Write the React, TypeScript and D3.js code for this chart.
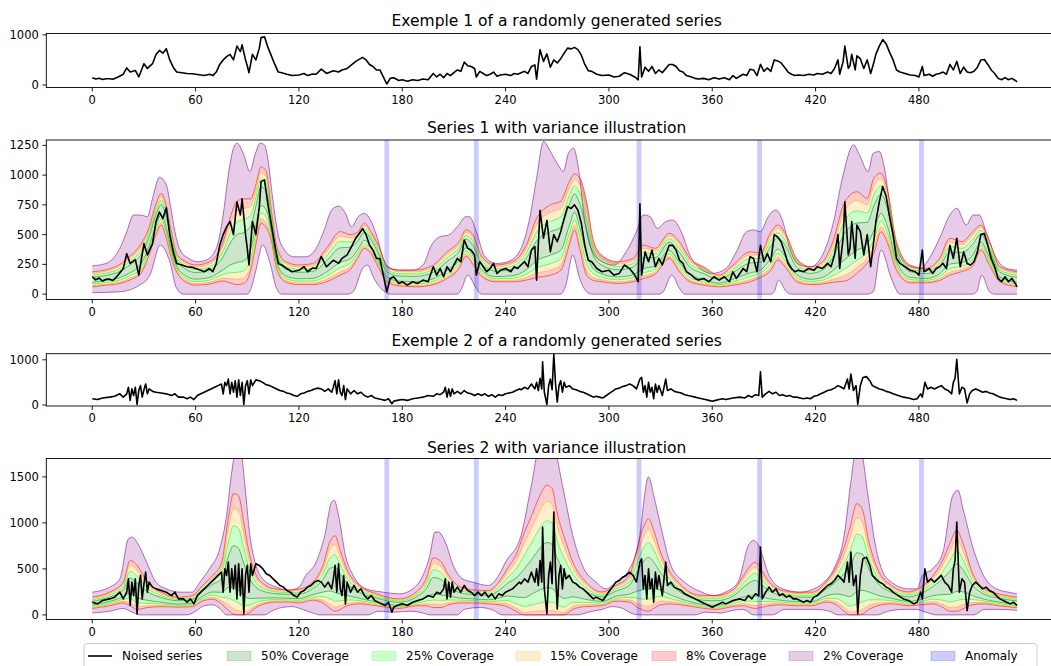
import React from "react";
import * as d3 from "d3";

type P = [number, number];

const X_TICKS = [0, 60, 120, 180, 240, 300, 360, 420, 480];
const ANOMALIES = [171, 223, 317.5, 387.5, 481.5];
const ANOMALY_HALF = 1.4;

// ---------- Series 1 ----------
const s1Noised: P[] = [
  [0,146],[2,120],[4,135],[6,110],[8,125],[10,126],[12,115],[15,160],[18,215],[20,340],[22,258],[25,290],[27,160],[30,425],[32,330],[35,425],[37,610],[39,690],[41,635],[43,725],[45,500],[47,355],[49,258],[52,245],[55,230],[58,225],[60,215],[63,200],[65,188],[68,215],[70,188],[72,258],[74,410],[76,500],[78,565],[80,610],[82,500],[84,775],[86,665],[87,800],[89,500],[90,385],[91,245],[93,610],[95,500],[97,735],[98,945],[100,960],[102,750],[104,580],[106,410],[108,258],[110,245],[113,215],[116,188],[120,200],[123,230],[125,188],[128,220],[130,215],[133,315],[136,230],[140,285],[143,258],[145,300],[148,330],[150,385],[153,470],[155,510],[157,550],[159,500],[161,410],[163,370],[165,300],[167,300],[169,160],[171,20],[173,132],[175,146],[178,90],[180,104],[183,76],[186,104],[189,90],[192,118],[195,104],[198,230],[200,160],[202,215],[204,146],[206,230],[208,188],[210,245],[212,300],[214,272],[216,455],[218,385],[220,370],[222,330],[223,160],[225,272],[227,230],[229,188],[231,215],[233,258],[235,174],[237,200],[240,215],[243,188],[245,230],[247,215],[249,245],[251,272],[253,230],[255,370],[257,400],[258,118],[260,705],[262,470],[264,620],[266,355],[268,500],[270,440],[272,525],[274,635],[276,735],[278,720],[280,750],[282,705],[284,595],[286,410],[288,285],[290,272],[293,215],[296,188],[300,200],[303,160],[306,174],[309,245],[312,215],[315,160],[317,104],[318,760],[319,160],[321,355],[323,272],[325,370],[327,230],[329,300],[331,245],[333,330],[335,410],[337,410],[339,370],[341,285],[343,258],[345,188],[348,160],[350,132],[352,118],[355,132],[358,104],[361,146],[364,118],[367,146],[370,104],[372,188],[374,132],[376,174],[378,215],[380,188],[382,315],[384,300],[386,188],[388,410],[390,272],[392,340],[394,272],[396,500],[398,480],[400,440],[402,355],[404,258],[406,215],[408,188],[410,200],[413,188],[416,215],[419,200],[421,230],[424,215],[427,258],[429,230],[431,330],[433,500],[434,215],[436,470],[437,775],[439,330],[440,385],[441,610],[443,300],[444,580],[446,525],[448,330],[450,500],[452,230],[454,470],[455,610],[457,775],[459,905],[461,820],[463,650],[465,500],[467,300],[469,258],[472,230],[475,200],[478,188],[480,160],[482,370],[483,188],[486,215],[488,174],[490,215],[492,230],[494,258],[496,215],[498,410],[500,300],[502,470],[504,230],[506,355],[508,258],[510,245],[512,272],[514,355],[516,500],[518,510],[520,410],[522,300],[524,230],[526,132],[528,104],[530,146],[532,104],[534,132],[536,90],[537,62]
];

const s1Hi2: P[] = [
  [0,238],[8,258],[16,384],[20,524],[24,665],[28,665],[32,651],[35,805],[39,982],[43,918],[45.5,735],[48,524],[51,370],[56,300],[61,272],[66,286],[72,384],[76,665],[79,1002],[82,1226],[84,1268],[88,1170],[91.5,1030],[94.5,1170],[97.5,1268],[100,1254],[102,1128],[105,777],[108,496],[111,384],[117,314],[124,314],[130,384],[135,552],[139,707],[143,740],[147,679],[150.5,566],[154.5,651],[158,679],[162,608],[165,497],[169,300],[172,216],[179,202],[186,202],[192,244],[197,412],[202,483],[207,497],[212,567],[217,651],[219,651],[223,525],[228,314],[235,258],[241,272],[248,356],[254,637],[258,974],[262,1282],[266,1198],[270.5,1086],[273.5,1030],[276.5,1184],[279.5,1226],[282,1086],[286,609],[290,370],[296,272],[303,244],[310,356],[316,525],[320,665],[324,651],[328,553],[333,609],[337,623],[342,525],[347,328],[353,216],[360,174],[368,216],[374,356],[380,525],[384,539],[388,525],[392.5,651],[397,707],[401,609],[405,384],[411,244],[417,230],[424,328],[430,581],[436,1002],[442,1254],[445.5,1170],[450.5,1030],[453.5,1184],[457,1198],[460,1058],[464,637],[468,356],[475,230],[481,216],[486,300],[492,469],[498,665],[502,721],[507.5,581],[511.5,665],[515,665],[519,525],[525,300],[531,216],[537,202]
];
const s1Lo2: P[] = [
  [0,12],[16,20],[27.5,76],[33.5,160],[39.5,412],[45,272],[49,48],[53,0],[90,0],[92.5,60],[95,200],[99,412],[103,272],[107,48],[110,0],[148,0],[151.5,20],[157,216],[160,244],[163,150],[166,76],[170,20],[173,0],[212,0],[214.5,48],[218,160],[223,48],[226,0],[272,0],[275,76],[279,328],[283,132],[287,20],[290,0],[329,0],[331.5,20],[336.5,160],[341,48],[344,0],[394,0],[396,20],[398.5,118],[403,20],[406,0],[450,0],[453.5,20],[458,370],[464,132],[469,0],[511,0],[513.5,20],[516.5,160],[521,20],[524,0],[537,0]
];
const s1Knots = [0,8,16,22,28,33,37,40,43,46,49,54,60,68,76,80,84,88,92,95,98,101,104,107,112,120,128,136,144,150,154,158,162,166,171,178,188,198,206,213,217,221,226,234,244,252,258,266,272,277,280,283,287,291,296,305,314,320,327,335,341,347,355,364,372,382,388,394,398,403,409,417,424,430,437,444,450,454,458,462,467,475,484,492,498,505,511,516,521,527,537];
const s1Hi8 = [188,205,250,320,415,560,760,845,740,520,340,275,245,270,440,640,780,800,800,920,1070,1030,700,410,275,245,258,384,525,500,520,595,520,410,240,202,202,244,356,440,540,500,320,245,272,412,637,750,780,945,1010,980,780,450,325,272,300,412,385,511,440,300,230,160,244,356,345,520,580,497,300,230,272,440,777,860,805,980,1016,860,440,244,216,300,469,440,520,580,440,230,188];
const s1Lo8 = [62,75,90,120,170,330,500,580,470,300,188,105,76,85,110,95,80,90,200,420,595,560,450,216,104,80,80,104,160,210,300,384,340,230,104,70,62,80,132,216,320,250,150,104,104,118,140,160,200,412,540,384,160,115,104,90,104,130,170,300,188,104,76,62,75,104,140,200,286,216,104,80,85,100,110,174,260,350,525,420,200,95,95,115,160,190,230,370,244,104,62];

// ---------- Series 2 ----------
const s2Noised: P[] = [
  [0,138],[3,120],[6,156],[10,174],[13,193],[16,247],[18,174],[20,247],[21,392],[22,102],[23,356],[24,210],[25,392],[26,11],[27,320],[28,429],[29,174],[30,338],[31,465],[32,247],[33,356],[35,302],[37,283],[40,265],[43,247],[46,210],[48,247],[50,174],[53,174],[55,138],[57,174],[59,120],[61,210],[63,247],[65,283],[67,320],[69,356],[71,392],[73,429],[75,465],[76,247],[77,501],[78,429],[79,574],[80,247],[81,501],[82,283],[83,538],[84,174],[85,556],[86,210],[87,501],[88,11],[89,429],[90,538],[91,247],[92,556],[93,429],[95,556],[97,538],[99,501],[101,447],[103,429],[105,392],[107,356],[109,320],[111,302],[113,265],[115,247],[117,210],[119,193],[121,247],[123,265],[125,302],[127,320],[129,356],[131,374],[133,356],[135,302],[137,356],[139,283],[140,392],[141,538],[142,247],[143,556],[144,283],[145,210],[146,429],[147,120],[148,356],[150,247],[152,320],[154,247],[156,283],[158,210],[160,174],[162,210],[164,156],[166,138],[168,120],[170,102],[172,138],[174,29],[175,84],[177,102],[180,120],[183,102],[186,138],[189,156],[192,174],[195,210],[198,193],[200,247],[202,229],[204,283],[205,392],[206,174],[207,356],[208,193],[209,356],[210,247],[212,302],[214,247],[216,320],[218,265],[220,247],[222,210],[224,247],[226,210],[228,247],[230,193],[232,229],[234,174],[236,229],[238,210],[240,247],[242,265],[244,283],[246,320],[248,356],[249,338],[251,392],[253,356],[255,465],[257,356],[258,501],[259,320],[260,592],[261,356],[261.5,955],[262.5,283],[264,11],[265,429],[266,574],[267,338],[268,1119],[269,465],[270,65],[271,429],[272,538],[273,283],[274,501],[275,392],[277,429],[279,356],[281,338],[283,302],[285,283],[287,247],[289,210],[291,174],[292.5,193],[294.5,174],[296.5,156],[298.5,210],[300.5,265],[302,302],[304,356],[306,374],[308,410],[310,429],[312,465],[314,429],[316,356],[318,574],[319,610],[320,283],[321,429],[322,174],[323,501],[324,283],[325,392],[326,138],[327,465],[328,283],[329,429],[330,320],[331,210],[333,574],[334,320],[336,356],[338,302],[340,283],[342,265],[344,229],[346,210],[348,193],[350,174],[352,156],[354,138],[356,120],[358,102],[360,84],[362,102],[364,120],[366,138],[368,120],[372,156],[376,174],[379,156],[381,210],[383,174],[385,229],[387,210],[388,737],[389,174],[391,247],[393,302],[395,247],[397,283],[399,210],[401,229],[403,193],[405,210],[407,174],[409,174],[411,156],[413,138],[415,156],[417,138],[419,193],[421,210],[423,247],[425,283],[427,320],[429,338],[431,374],[433,429],[435,392],[436.5,356],[438.5,574],[439.5,356],[440.5,683],[442,320],[443.5,429],[444.5,11],[446,429],[447.5,610],[449.5,628],[451.5,538],[453,429],[455,392],[457,356],[459,338],[461,302],[463,283],[465,247],[468,210],[471,174],[474,156],[477,120],[479,138],[481,247],[482,174],[483.5,501],[485,356],[487,392],[489,356],[491,392],[493,429],[495,356],[497,320],[499,247],[500,501],[501,592],[502,1010],[503.5,247],[505,392],[506.5,356],[508,47],[509.5,247],[511,320],[513,356],[515,320],[517,283],[519,302],[521,265],[523,247],[525,210],[527,174],[529,156],[531,138],[533,120],[535,138],[537,102]
];
const s2Hi2: P[] = [
  [0,247],[10,301],[16,392],[21,828],[23,846],[27,755],[31.5,574],[37,356],[43,283],[51,247],[58,247],[62.5,356],[68,501],[74,719],[78,1082],[81,1554],[83.5,1800],[86,1800],[88.6,1409],[91.5,864],[94.5,574],[99,392],[107,301],[115,270],[120,300],[124,429],[130,574],[135,864],[139,1228],[140.5,1246],[143,1082],[147,646],[151.5,429],[159,283],[169,247],[178.6,229],[186,283],[192,429],[196,646],[199,901],[201,901],[205,792],[209.6,537],[215,392],[221,356],[230,320],[236,429],[240,574],[249,864],[255,1409],[259.5,1800],[268,1800],[273,1409],[279,864],[284.6,537],[292.5,356],[298.4,283],[304,356],[312,501],[317,755],[323,1500],[326,1300],[330,973],[336,537],[344,356],[354,247],[360.6,210],[367.5,247],[375,356],[381,755],[384,810],[387,755],[393,429],[401,283],[411,247],[419,283],[425,356],[430.6,501],[436.6,864],[440.5,1445],[443.5,1800],[446,1800],[450.4,1300],[454.4,792],[458.3,501],[464,356],[474,283],[479,283],[482,429],[488,501],[494,683],[499.7,1300],[502.7,1355],[505.6,1155],[511.6,719],[517.5,429],[525,283],[532,247],[537,229]
];
const s2Lo2: P[] = [
  [0,20],[10,40],[18,70],[22,40],[28,0],[55,0],[60,40],[65,100],[70,110],[74,70],[78,0],[100,0],[104,40],[110,80],[116,90],[122,60],[128,20],[132,0],[160,0],[166,40],[175,30],[185,40],[192,20],[196,0],[212,0],[216,60],[225,80],[233,50],[238,0],[282,0],[288,30],[296,60],[302,90],[308,70],[314,10],[318,0],[350,0],[356,30],[365,20],[372,50],[378,60],[384,0],[395,0],[402,60],[412,60],[420,60],[428,40],[433,0],[456,0],[462,40],[472,60],[478,60],[484,30],[490,0],[512,0],[518,60],[526,60],[537,50]
];
const s2Knots = [0,10,18,22,26,32,40,50,58,64,70,75,79,82,85,88,91,95,100,106,114,120,128,134,138,141,144,148,155,165,178,188,194,198,202,207,214,222,230,236,241,246,251,256,260,264,267,270,274,279,286,296,304,312,316,320,323,326,330,335,342,352,362,372,378,382,385,388,393,400,408,418,426,432,436,440,444,447,451,456,464,474,481,488,494,498,502,506,511,518,526,537];
const s2Hi8 = [193,247,356,592,537,356,247,193,210,320,430,560,1050,1318,1290,1000,683,440,330,283,270,280,356,540,800,860,700,490,320,230,174,247,400,620,590,430,300,270,265,356,501,650,900,1120,1300,1409,1373,1100,850,574,370,250,320,429,700,950,1046,920,680,480,320,215,210,270,420,530,574,501,360,270,247,247,356,520,700,950,1209,1155,792,501,320,250,300,420,600,780,919,755,460,283,230,193];
const s2Lo8 = [70,100,130,100,60,80,90,85,90,150,170,120,50,10,0,0,20,80,120,140,140,130,160,130,70,40,60,100,120,100,70,100,100,80,80,110,130,130,120,110,90,40,0,0,0,0,0,0,0,60,90,100,150,140,90,50,40,70,110,120,110,80,60,90,100,80,70,80,100,110,100,100,140,110,50,0,0,10,60,100,120,100,110,120,80,40,40,70,110,120,100,80];

// inner band levels, as fractions of the 8% half-width (measured in a power-0.7 space)
const BAND_POWER = 0.7;
const LEVEL_15 = 0.82;
const LEVEL_25 = 0.6;
const LEVEL_50 = 0.33;

const LEGEND_LABELS = ["Noised series", "50% Coverage", "25% Coverage", "15% Coverage", "8% Coverage", "2% Coverage", "Anomaly"];

const C = {
  purple: "#800080",
  red: "#ff0000",
  orange: "#ffa500",
  lime: "#00ff00",
  green: "#008000",
  blue: "#0000ff",
};
const FILL_OP = 0.2;
const EDGE_OP = 0.55;
const FONT = "DejaVu Sans, Verdana, sans-serif";

const xScale = d3.scaleLinear().domain([-26.7, 566]).range([46.3, 1067]);

interface PanelCfg {
  title: string;
  top: number;
  bottom: number;
  yDomain: [number, number];
  yTicks: number[];
  titleY: number;
  series: number;
}

const PANELS: PanelCfg[] = [
  { title: "Exemple 1 of a randomly generated series", top: 33.5, bottom: 87.5, yDomain: [-50, 1027], yTicks: [0, 1000], titleY: 26.3, series: 0 },
  { title: "Series 1 with variance illustration", top: 140, bottom: 299.5, yDomain: [-45, 1295], yTicks: [0, 250, 500, 750, 1000, 1250], titleY: 133, series: 1 },
  { title: "Exemple 2 of a randomly generated series", top: 353.7, bottom: 406, yDomain: [-22, 1135], yTicks: [0, 1000], titleY: 346.3, series: 2 },
  { title: "Series 2 with variance illustration", top: 458.5, bottom: 619.5, yDomain: [-50, 1700], yTicks: [0, 500, 1000, 1500], titleY: 453, series: 3 },
];

function Bands({ y, knots, hi8, lo8, hi2, lo2 }: { y: d3.ScaleLinear<number, number>; knots: number[]; hi8: number[]; lo8: number[]; hi2: P[]; lo2: P[] }) {
  const line = d3.line<P>().x((d) => xScale(d[0])).y((d) => y(d[1])).curve(d3.curveMonotoneX);
  const ring = (upper: P[], lower: P[]) => {
    const a = line(upper) || "";
    const b = line([...lower].reverse()) || "";
    return a + "L" + b.slice(1) + "Z";
  };
  const fwd = (v: number) => Math.pow(Math.max(0, v), BAND_POWER);
  const inv = (v: number) => Math.pow(Math.max(0, v), 1 / BAND_POWER);
  const at = (f: number, sign: number): P[] =>
    knots.map((k, i) => {
      const a = fwd(hi8[i]);
      const b = fwd(lo8[i]);
      const m = (a + b) / 2;
      const h = (a - b) / 2;
      return [k, inv(m + sign * f * h)] as P;
    });
  const up8 = at(1, 1), dn8 = at(1, -1);
  const up15 = at(LEVEL_15, 1), dn15 = at(LEVEL_15, -1);
  const up25 = at(LEVEL_25, 1), dn25 = at(LEVEL_25, -1);
  const up50 = at(LEVEL_50, 1), dn50 = at(LEVEL_50, -1);
  const fills: [string, string][] = [
    [ring(hi2, up8), C.purple],
    [ring(dn8, lo2), C.purple],
    [ring(up8, up15), C.red],
    [ring(dn15, dn8), C.red],
    [ring(up15, up25), C.orange],
    [ring(dn25, dn15), C.orange],
    [ring(up25, up50), C.lime],
    [ring(dn50, dn25), C.lime],
    [ring(up50, dn50), C.green],
  ];
  const edges: [P[], string][] = [
    [hi2, C.purple], [lo2, C.purple],
    [up8, C.red], [dn8, C.red],
    [up15, C.orange], [dn15, C.orange],
    [up25, C.lime], [dn25, C.lime],
    [up50, C.green], [dn50, C.green],
  ];
  return (
    <g>
      {fills.map(([d, c], i) => (
        <path key={"f" + i} d={d} fill={c} fillOpacity={FILL_OP} stroke="none" />
      ))}
      {edges.map(([pts, c], i) => (
        <path key={"e" + i} d={line(pts) || ""} fill="none" stroke={c} strokeOpacity={EDGE_OP} strokeWidth={1} />
      ))}
    </g>
  );
}

function Panel({ cfg, idx }: { cfg: PanelCfg; idx: number }) {
  const y = d3.scaleLinear().domain(cfg.yDomain).range([cfg.bottom, cfg.top]);
  const left = xScale.range()[0];
  const right = xScale.range()[1];
  const noised = cfg.series < 2 ? s1Noised : s2Noised;
  const withBands = cfg.series === 1 || cfg.series === 3;
  const line = d3.line<P>().x((d) => xScale(d[0])).y((d) => y(d[1]));
  const clipId = "clip" + idx;
  return (
    <g>
      <defs>
        <clipPath id={clipId}>
          <rect x={left} y={cfg.top} width={right - left} height={cfg.bottom - cfg.top} />
        </clipPath>
      </defs>
      <g clipPath={`url(#${clipId})`}>
        {withBands &&
          (cfg.series === 1 ? (
            <Bands y={y} knots={s1Knots} hi8={s1Hi8} lo8={s1Lo8} hi2={s1Hi2} lo2={s1Lo2} />
          ) : (
            <Bands y={y} knots={s2Knots} hi8={s2Hi8} lo8={s2Lo8} hi2={s2Hi2} lo2={s2Lo2} />
          ))}
        {withBands &&
          ANOMALIES.map((a, i) => (
            <rect key={i} x={xScale(a - ANOMALY_HALF)} y={cfg.top} width={xScale(a + ANOMALY_HALF) - xScale(a - ANOMALY_HALF)} height={cfg.bottom - cfg.top} fill={C.blue} fillOpacity={FILL_OP} />
          ))}
        <path d={line(noised) || ""} fill="none" stroke="#000" strokeWidth={1.6} strokeLinejoin="round" />
      </g>
      <rect x={left} y={cfg.top} width={right - left} height={cfg.bottom - cfg.top} fill="none" stroke="#000" strokeWidth={0.9} />
      {X_TICKS.map((t) => (
        <g key={"x" + t}>
          <line x1={xScale(t)} x2={xScale(t)} y1={cfg.bottom} y2={cfg.bottom + 3.9} stroke="#000" strokeWidth={0.9} />
          <text x={xScale(t)} y={cfg.bottom + 16} textAnchor="middle" fontSize={11.5} fontFamily={FONT} fill="#000">
            {t}
          </text>
        </g>
      ))}
      {cfg.yTicks.map((t) => (
        <g key={"y" + t}>
          <line x1={left - 3.9} x2={left} y1={y(t)} y2={y(t)} stroke="#000" strokeWidth={0.9} />
          <text x={left - 7.5} y={y(t) + 4.1} textAnchor="end" fontSize={11.5} fontFamily={FONT} fill="#000">
            {t}
          </text>
        </g>
      ))}
      <text x={(left + right) / 2} y={cfg.titleY} textAnchor="middle" fontSize={15.5} fontFamily={FONT} fill="#000">
        {cfg.title}
      </text>
    </g>
  );
}

function Legend() {
  const x0 = 84, y0 = 643.5, w = 953, h = 26;
  const cy = y0 + 12.5;
  const starts = [88, 227, 372, 516, 652, 789, 931];
  const colors = [null, C.green, C.lime, C.orange, C.red, C.purple, C.blue];
  return (
    <g>
      <rect x={x0} y={y0} width={w} height={h} rx={3} fill="#fff" fillOpacity={0.8} stroke="#ccc" strokeWidth={1} />
      {LEGEND_LABELS.map((lab, i) => (
        <g key={lab}>
          {i === 0 ? (
            <line x1={starts[i]} x2={starts[i] + 24} y1={cy} y2={cy} stroke="#000" strokeWidth={1.6} />
          ) : (
            <rect x={starts[i]} y={cy - 4.5} width={24} height={9} fill={colors[i] as string} fillOpacity={FILL_OP} stroke={colors[i] as string} strokeOpacity={FILL_OP} />
          )}
          <text x={starts[i] + 34} y={cy + 4.3} fontSize={12} fontFamily={FONT} fill="#000">
            {lab}
          </text>
        </g>
      ))}
    </g>
  );
}

export default function App() {
  return (
    <svg width={1051} height={666} style={{ position: "absolute", left: 0, top: 0, display: "block", background: "#fff" }}>
      <rect x={0} y={0} width={1051} height={666} fill="#fff" />
      {PANELS.map((p, i) => (
        <Panel key={i} cfg={p} idx={i} />
      ))}
      <Legend />
    </svg>
  );
}
